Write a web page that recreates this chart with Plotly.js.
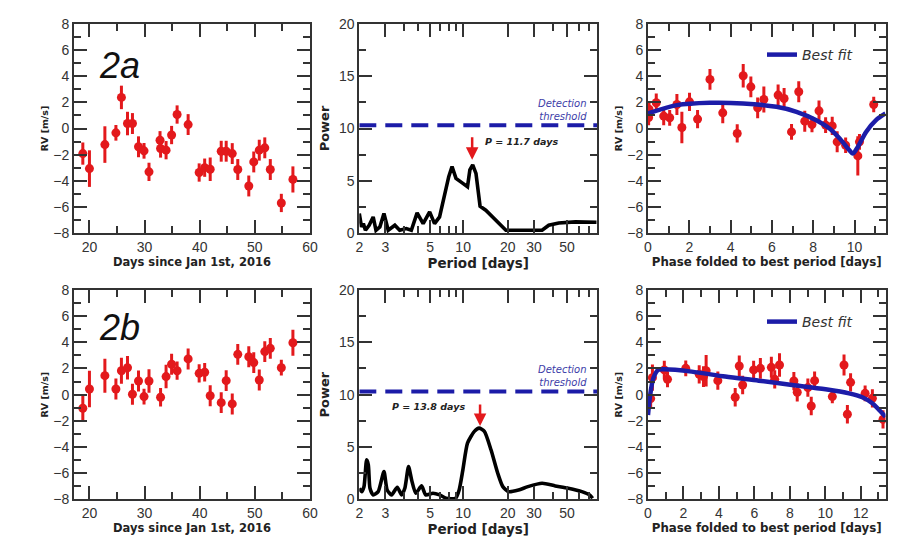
<!DOCTYPE html>
<html>
<head>
<meta charset="utf-8">
<script src="https://cdn.plot.ly/plotly-3.0.1.min.js"></script>
<style>html,body{margin:0;padding:0;background:#fff;}#chart{width:902px;height:558px;}</style>
</head>
<body>
<div id="chart"></div>
<script>
// ---------- Panel 2a: RV time series ----------
var days2a = [18.8, 20.0, 22.8, 24.8, 25.8, 26.9, 27.8, 28.9, 29.9, 30.8, 32.8, 32.9, 33.9, 34.9, 35.9, 37.9, 39.9, 40.9, 41.9, 43.9, 44.8, 45.9, 46.9, 48.9, 49.8, 50.8, 51.8, 52.8, 54.8, 56.9];
var rv2a   = [-1.92, -3.07, -1.23, -0.33, 2.38, 0.38, 0.38, -1.4, -1.71, -3.32, -0.9, -1.53, -1.66, -0.5, 1.07, 0.3, -3.37, -3.0, -3.12, -1.74, -1.74, -1.92, -3.14, -4.4, -2.56, -1.66, -1.48, -3.14, -5.7, -3.9];
var err2a  = [0.85, 1.4, 1.4, 0.6, 0.9, 0.9, 0.8, 0.8, 0.6, 0.7, 0.7, 0.7, 0.7, 0.7, 0.7, 0.8, 0.7, 0.7, 0.9, 0.8, 0.8, 0.8, 0.8, 0.8, 0.8, 0.8, 0.8, 0.8, 0.7, 1.0];

// ---------- Panel 2b: RV time series ----------
var days2b = [18.8, 20.0, 22.8, 24.8, 25.8, 26.9, 27.8, 28.9, 29.9, 30.8, 32.9, 33.9, 34.9, 35.9, 37.9, 39.9, 40.9, 41.9, 43.9, 44.8, 45.9, 46.9, 48.9, 49.8, 50.8, 51.8, 52.8, 54.8, 56.9];
var rv2b   = [-1.04, 0.43, 1.45, 0.43, 1.83, 2.06, 0.03, 1.04, -0.15, 1.04, -0.2, 1.38, 2.32, 1.83, 2.73, 1.63, 1.71, -0.08, -0.61, 1.07, -0.71, 3.08, 2.9, 2.45, 1.12, 3.29, 3.54, 2.06, 3.97];
var err2b  = [1.0, 1.4, 1.3, 0.8, 1.0, 0.9, 0.8, 0.8, 0.6, 0.9, 0.7, 0.9, 0.8, 0.7, 0.8, 0.7, 0.7, 0.8, 0.8, 0.8, 0.8, 0.8, 0.8, 0.8, 0.8, 0.8, 0.8, 0.6, 1.0];

// ---------- Periodograms ----------
var period2a = [2.0, 2.07, 2.13, 2.2, 2.33, 2.48, 2.59, 2.75, 2.93, 3.13, 3.47, 3.74, 4.14, 4.48, 4.9, 5.38, 5.95, 6.42, 6.94, 7.5, 8.0, 8.42, 8.95, 9.8, 10.7, 11.1, 11.6, 12.2, 13.0, 14.2, 16.5, 18.9, 19.4, 21.5, 34.0, 37.7, 44.0, 57.0, 70.0, 79.0];
var power2a  = [1.86, 0.58, 0.9, 0.26, 0.74, 1.54, 0.26, 0.58, 1.86, 0.26, 0.74, 0.26, 0.42, 0.26, 1.93, 0.9, 2.02, 0.9, 1.54, 3.63, 5.39, 6.36, 5.23, 4.82, 4.43, 6.04, 6.52, 5.71, 2.57, 2.18, 1.22, 0.42, 0.26, 0.26, 0.26, 0.74, 0.96, 1.06, 1.05, 1.03];
var period2b = [2.0, 2.07, 2.15, 2.24, 2.3, 2.36, 2.48, 2.68, 2.93, 3.08, 3.3, 3.6, 3.86, 4.05, 4.29, 4.5, 4.8, 5.25, 5.6, 6.26, 6.94, 7.67, 8.9, 9.4, 9.96, 10.7, 11.9, 12.8, 13.9, 15.4, 17.1, 18.5, 20.3, 23.6, 27.3, 34.0, 41.7, 51.0, 63.0, 71.0, 74.4];
var power2b  = [1.05, 0.73, 1.21, 3.77, 3.3, 1.05, 0.42, 0.73, 2.65, 0.89, 0.42, 1.15, 0.42, 1.05, 3.13, 1.85, 0.58, 1.28, 0.42, 0.58, 0.42, 0.1, 0.1, 0.89, 2.81, 5.37, 6.49, 6.8, 6.49, 4.73, 2.49, 1.21, 0.73, 0.89, 1.21, 1.53, 1.28, 1.05, 0.73, 0.42, 0.1];
var threshold = 10.3;
var bestP2a = 11.7, bestP2b = 13.8;
var periodTickVals = [2, 3, 6, 10, 20, 30, 50];
var periodTickText = ['2', '3', '5', '10', '20', '30', '50'];
var periodMinorVals = [4, 5, 7, 8, 9, 40, 60, 70];

// ---------- Phase-folded ----------
var phase2a = [0.03, 0.05, 0.4, 0.76, 1.05, 1.4, 1.64, 2.01, 2.4, 3.0, 3.62, 4.32, 4.61, 4.98, 5.31, 5.61, 6.3, 6.59, 6.95, 7.3, 7.59, 7.94, 8.28, 8.6, 8.92, 9.16, 9.57, 10.16, 10.24, 10.93];
var prv2a   = [0.84, 1.48, 1.97, 0.95, 0.82, 1.84, 0.08, 2.04, 0.72, 3.76, 1.2, -0.38, 4.04, 3.19, 1.58, 2.22, 2.56, 2.3, -0.26, 2.81, 0.56, 0.31, 1.35, 0.26, 0.2, -1.02, -1.28, -2.1, -1.02, 1.84];
var perr2a  = [0.6, 0.6, 0.7, 0.7, 0.6, 0.8, 1.2, 0.7, 0.7, 0.8, 0.8, 0.7, 0.9, 0.8, 0.8, 1.0, 0.8, 0.8, 0.6, 0.8, 0.8, 0.6, 0.8, 0.6, 0.7, 0.8, 0.6, 1.5, 0.6, 0.6];
var fitX2a = [0, 1.4, 2.99, 4.6, 6.22, 7.19, 8.15, 8.79, 9.28, 9.68, 9.92, 10.16, 10.56, 11.04, 11.5];
var fitY2a = [1.15, 1.79, 1.97, 1.92, 1.66, 1.28, 0.64, 0.0, -0.77, -1.53, -1.92, -1.41, -0.26, 0.64, 1.15];

var phase2b = [0.15, 0.25, 0.92, 1.1, 2.13, 2.89, 3.13, 3.28, 3.94, 4.92, 5.15, 5.34, 5.96, 6.34, 6.96, 7.15, 7.42, 8.23, 8.42, 9.02, 9.21, 9.4, 10.4, 11.06, 11.25, 11.43, 12.25, 12.66, 13.26];
var prv2b   = [-0.3, 1.3, 1.89, 1.17, 2.01, 1.55, 1.38, 1.83, 1.07, -0.2, 2.19, 0.74, 1.89, 2.01, 2.09, 1.17, 2.27, 1.04, 0.18, 0.54, -0.87, 1.07, -0.15, 2.27, -1.5, 0.94, 0.1, -0.28, -1.89];
var perr2b  = [0.8, 1.0, 0.7, 0.6, 0.6, 0.7, 0.8, 1.2, 0.7, 0.7, 0.8, 0.7, 0.7, 0.8, 0.8, 0.7, 0.9, 0.7, 0.7, 0.7, 0.7, 0.7, 0.5, 0.8, 0.7, 0.7, 0.6, 0.7, 0.7];
var fitX2b = [0, 0.11, 0.3, 0.58, 0.96, 2.47, 4.36, 6.25, 8.13, 10.02, 11.34, 12.09, 12.66, 13.04, 13.4];
var fitY2b = [-1.55, -0.15, 1.25, 1.89, 1.94, 1.76, 1.38, 1.07, 0.74, 0.41, 0.1, -0.2, -0.66, -1.17, -1.68];

// ---------- Styling ----------
var F = 'DejaVu Sans, Liberation Sans, Arial, sans-serif';
var F2 = 'Liberation Sans, Arial, Helvetica, sans-serif';
var RED = '#e3191c', BLUE = '#1c1ca8', INK = '#333333';

function rvTrace(x, y, e, xa, ya) {
  return {x: x, y: y, xaxis: xa, yaxis: ya, type: 'scatter', mode: 'markers', showlegend: false,
    marker: {color: RED, size: 9},
    error_y: {type: 'data', array: e, visible: true, color: RED, thickness: 3, width: 0}};
}
function axis(extra) {
  var a = {showline: true, mirror: 'ticks', linecolor: INK, linewidth: 2, ticks: 'inside', ticklen: 13,
    tickwidth: 2, tickcolor: INK, showgrid: false, zeroline: false, fixedrange: true,
    tickfont: {family: F2, size: 14, color: INK}};
  for (var k in extra) a[k] = extra[k];
  return a;
}
function minor(extra) {
  var m = {ticks: 'inside', ticklen: 7, tickwidth: 2, tickcolor: INK, showgrid: false};
  for (var k in extra) m[k] = extra[k];
  return m;
}
function xtitle(t, size) { return {text: t, font: {family: F, size: size, color: '#222', weight: 'bold'}, standoff: 4}; }
function ytitle(t, size, so) { return {text: t, font: {family: F, size: size, color: '#222', weight: 'bold'}, standoff: so}; }

var c1 = [74 / 902, 310 / 902], c2 = [359.3 / 902, 597.3 / 902], c3 = [648 / 902, 885.5 / 902];
var r1 = [1 - 233 / 558, 1 - 24 / 558], r2 = [1 - 499.3 / 558, 1 - 290 / 558];

var rvAxis = function (dom, anchor) {
  return axis({domain: dom, anchor: anchor, range: [-8, 8], tickmode: 'linear', tick0: 0, dtick: 2, minor: minor({dtick: 1})});
};
var dayAxis = function (dom, anchor) {
  return axis({domain: dom, anchor: anchor, range: [17.2, 60], tickmode: 'linear', tick0: 0, dtick: 10, minor: minor({dtick: 5})});
};
var perAxis = function (dom, anchor) {
  return axis({domain: dom, anchor: anchor, type: 'log', range: [Math.log10(2), Math.log10(80)],
    tickmode: 'array', tickvals: periodTickVals, ticktext: periodTickText,
    minor: minor({tickmode: 'array', tickvals: periodMinorVals})});
};
var powAxis = function (dom, anchor) {
  return axis({domain: dom, anchor: anchor, range: [0, 20], tickmode: 'linear', tick0: 0, dtick: 5, minor: minor({dtick: 2.5})});
};
var phaseAxis = function (dom, anchor, max) {
  return axis({domain: dom, anchor: anchor, range: [0, max], tickmode: 'linear', tick0: 0, dtick: 2, minor: minor({dtick: 1})});
};

var data = [
  rvTrace(days2a, rv2a, err2a, 'x', 'y'),
  {x: period2a, y: power2a, xaxis: 'x2', yaxis: 'y2', type: 'scatter', mode: 'lines', showlegend: false, line: {color: '#000', width: 3.6}},
  {x: [2, 80], y: [threshold, threshold], xaxis: 'x2', yaxis: 'y2', type: 'scatter', mode: 'lines', showlegend: false, line: {color: BLUE, width: 4, dash: '17px,9px'}},
  rvTrace(phase2a, prv2a, perr2a, 'x3', 'y3'),
  {x: fitX2a, y: fitY2a, xaxis: 'x3', yaxis: 'y3', type: 'scatter', mode: 'lines', name: 'Best fit', legend: 'legend', line: {color: BLUE, width: 4.5, shape: 'spline', smoothing: 0.8}},
  rvTrace(days2b, rv2b, err2b, 'x4', 'y4'),
  {x: period2b, y: power2b, xaxis: 'x5', yaxis: 'y5', type: 'scatter', mode: 'lines', showlegend: false, line: {color: '#000', width: 3.6, shape: 'spline', smoothing: 0.6}},
  {x: [2, 80], y: [threshold, threshold], xaxis: 'x5', yaxis: 'y5', type: 'scatter', mode: 'lines', showlegend: false, line: {color: BLUE, width: 4, dash: '17px,9px'}},
  rvTrace(phase2b, prv2b, perr2b, 'x6', 'y6'),
  {x: fitX2b, y: fitY2b, xaxis: 'x6', yaxis: 'y6', type: 'scatter', mode: 'lines', name: 'Best fit', legend: 'legend2', line: {color: BLUE, width: 4.5, shape: 'spline', smoothing: 0.8}}
];

var legendStyle = function (y) {
  return {x: 762 / 902, y: y, xanchor: 'left', yanchor: 'middle', bgcolor: 'rgba(0,0,0,0)',
    font: {family: F, size: 14, color: INK, style: 'italic'}, itemwidth: 30};
};

function textAnn(text, x, y, xanchor, font, extra) {
  var a = {text: text, xref: 'paper', yref: 'paper', x: x, y: y, xanchor: xanchor, yanchor: 'middle', showarrow: false, font: font};
  for (var k in extra) a[k] = extra[k];
  return a;
}
var bigFont = {family: F2, size: 36, color: '#111', style: 'italic'};
var detFont = {family: F, size: 10, color: '#3c3ca8', style: 'italic'};
var pFont = {family: F, size: 9.5, color: '#222', weight: 'bold', style: 'italic'};

var layout = {
  width: 902, height: 558, margin: {l: 0, r: 0, t: 0, b: 0}, paper_bgcolor: '#fff', plot_bgcolor: '#fff',
  showlegend: true,
  legend: legendStyle(1 - 55 / 558),
  legend2: legendStyle(1 - 322 / 558),
  xaxis: dayAxis(c1, 'y'), yaxis: rvAxis(r1, 'x'),
  xaxis2: perAxis(c2, 'y2'), yaxis2: powAxis(r1, 'x2'),
  xaxis3: phaseAxis(c3, 'y3', 11.5), yaxis3: rvAxis(r1, 'x3'),
  xaxis4: dayAxis(c1, 'y4'), yaxis4: rvAxis(r2, 'x4'),
  xaxis5: perAxis(c2, 'y5'), yaxis5: powAxis(r2, 'x5'),
  xaxis6: phaseAxis(c3, 'y6', 13.4), yaxis6: rvAxis(r2, 'x6'),
  annotations: [
    textAnn('2a', 119 / 902, 1 - 65 / 558, 'center', bigFont),
    textAnn('2b', 119 / 902, 1 - 327 / 558, 'center', bigFont),
    textAnn('Detection<br>threshold', 589 / 902, 1 - 110 / 558, 'right', detFont, {align: 'right'}),
    textAnn('Detection<br>threshold', 589 / 902, 1 - 376 / 558, 'right', detFont, {align: 'right'}),
    {text: 'P = ' + bestP2a + ' days', xref: 'x2', yref: 'y2', x: Math.log10(13.5), y: 8.76, xanchor: 'left', yanchor: 'middle', showarrow: false, font: pFont},
    {text: 'P = ' + bestP2b + ' days', xref: 'x5', yref: 'y5', x: Math.log10(3.22), y: 8.85, xanchor: 'left', yanchor: 'middle', showarrow: false, font: pFont},
    {text: '', xref: 'x2', yref: 'y2', x: Math.log10(11.5), y: 7.0, axref: 'x2', ayref: 'y2', ax: Math.log10(11.5), ay: 9.3,
      showarrow: true, arrowhead: 2, arrowsize: 1, arrowwidth: 2.5, arrowcolor: RED},
    {text: '', xref: 'x5', yref: 'y5', x: Math.log10(13.0), y: 7.0, axref: 'x5', ayref: 'y5', ax: Math.log10(13.0), ay: 9.2,
      showarrow: true, arrowhead: 2, arrowsize: 1, arrowwidth: 2.5, arrowcolor: RED}
  ]
};
layout.xaxis.title = xtitle('Days since Jan 1st, 2016', 11.5);
layout.xaxis4.title = xtitle('Days since Jan 1st, 2016', 11.5);
layout.xaxis2.title = xtitle('Period [days]', 13.5);
layout.xaxis5.title = xtitle('Period [days]', 13.5);
layout.xaxis3.title = xtitle('Phase folded to best period [days]', 11.8);
layout.xaxis6.title = xtitle('Phase folded to best period [days]', 11.8);
layout.yaxis.title = ytitle('RV [m/s]', 9.5, 3);
layout.yaxis4.title = ytitle('RV [m/s]', 9.5, 3);
layout.yaxis3.title = ytitle('RV [m/s]', 9.5, 3);
layout.yaxis6.title = ytitle('RV [m/s]', 9.5, 3);
layout.yaxis2.title = ytitle('Power', 13, 6);
layout.yaxis5.title = ytitle('Power', 13, 6);

Plotly.newPlot('chart', data, layout, {staticPlot: true, displayModeBar: false});
</script>
</body>
</html>
